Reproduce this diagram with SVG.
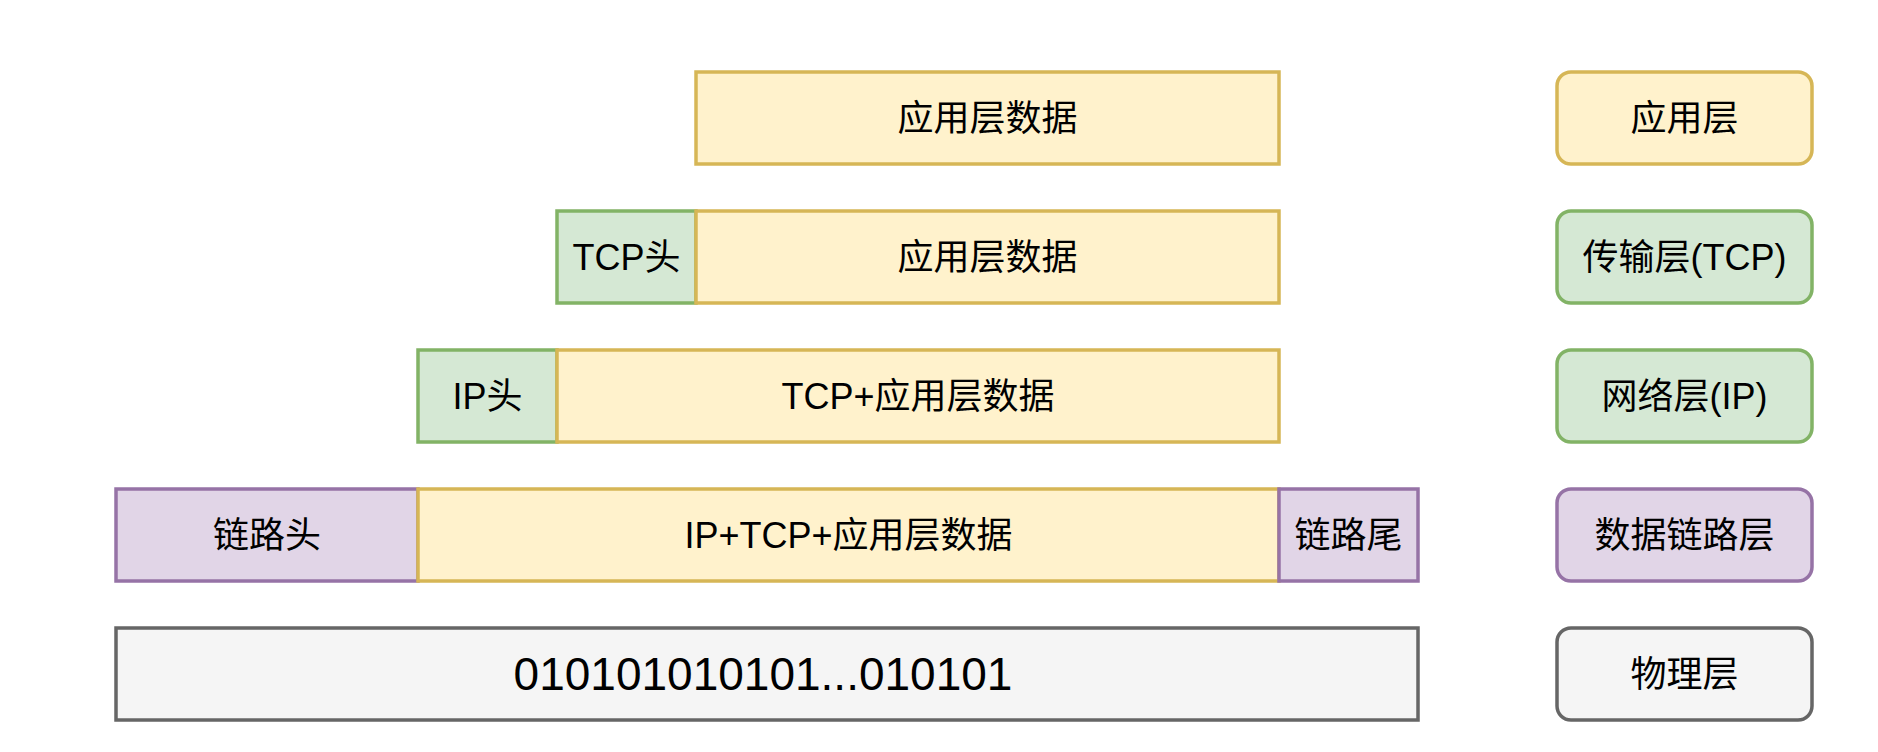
<svg xmlns="http://www.w3.org/2000/svg" width="1878" height="752" viewBox="0 0 1878 752">
<style>
rect{stroke-width:3.5}
.y{fill:#fff2cc;stroke:#d6b656}
.g{fill:#d5e8d4;stroke:#82b366}
.p{fill:#e1d5e7;stroke:#9673a6}
.k{fill:#f5f5f5;stroke:#666666}
text{font-family:"Liberation Sans","Noto Sans CJK SC",sans-serif;font-size:36px;fill:#000;text-anchor:middle;dominant-baseline:central}
</style>
<rect width="1878" height="752" fill="#ffffff"/>
<g id="row1-app"><rect class="y" x="696" y="72" width="583" height="92"/><text x="987.5" y="118">应用层数据</text></g>
<g id="row2-tcphead"><rect class="g" x="557" y="211" width="139" height="92"/><text x="626.5" y="257">TCP头</text></g>
<g id="row2-app"><rect class="y" x="696" y="211" width="583" height="92"/><text x="987.5" y="257">应用层数据</text></g>
<g id="row3-iphead"><rect class="g" x="418" y="350" width="139" height="92"/><text x="487.5" y="396">IP头</text></g>
<g id="row3-data"><rect class="y" x="557" y="350" width="722" height="92"/><text x="918" y="396">TCP+应用层数据</text></g>
<g id="row4-linkhead"><rect class="p" x="116" y="489" width="302" height="92"/><text x="267" y="535">链路头</text></g>
<g id="row4-data"><rect class="y" x="418" y="489" width="861" height="92"/><text x="848.5" y="535">IP+TCP+应用层数据</text></g>
<g id="row4-linktail"><rect class="p" x="1279" y="489" width="139" height="92"/><text x="1348.5" y="535">链路尾</text></g>
<g id="row5-bits"><rect class="k" x="116" y="628" width="1302" height="92"/><text x="763" y="674" style="font-size:46px">010101010101...010101</text></g>
<g id="layer-app"><rect class="y" x="1557" y="72" width="255" height="92" rx="14"/><text x="1684.5" y="118">应用层</text></g>
<g id="layer-tcp"><rect class="g" x="1557" y="211" width="255" height="92" rx="14"/><text x="1684.5" y="257">传输层(TCP)</text></g>
<g id="layer-ip"><rect class="g" x="1557" y="350" width="255" height="92" rx="14"/><text x="1684.5" y="396">网络层(IP)</text></g>
<g id="layer-link"><rect class="p" x="1557" y="489" width="255" height="92" rx="14"/><text x="1684.5" y="535">数据链路层</text></g>
<g id="layer-phy"><rect class="k" x="1557" y="628" width="255" height="92" rx="14"/><text x="1684.5" y="674">物理层</text></g>
<g id="connectors"></g>
</svg>
